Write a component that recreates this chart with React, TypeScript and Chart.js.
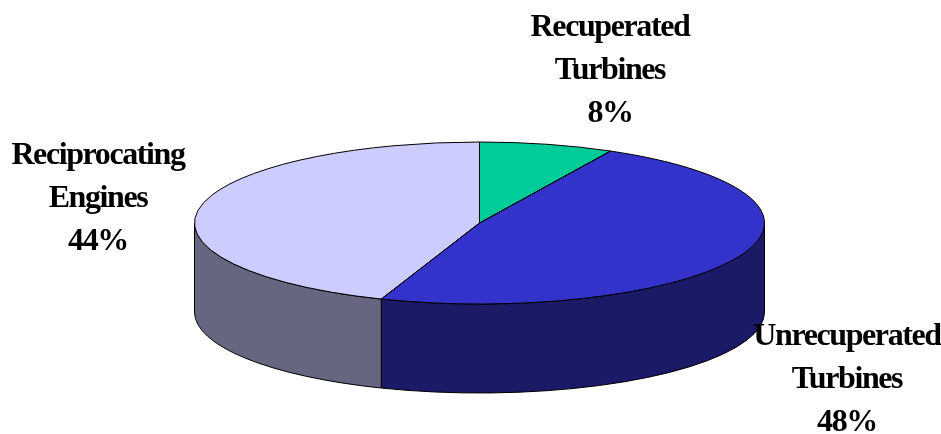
import React, { useEffect, useRef } from "react";
import { Chart, registerables } from "chart.js";

Chart.register(...registerables);

const categories = ["Recuperated Turbines", "Unrecuperated Turbines", "Reciprocating Engines"];
const shares = [7.6, 48, 44.4];
const topColors = ["#00CC99", "#3333CC", "#CCCCFF"];
const wallColors = ["#006650", "#1A1A66", "#666680"];
const labelLines = [
  ["Recuperated", "Turbines", "8%"],
  ["Unrecuperated", "Turbines", "48%"],
  ["Reciprocating", "Engines", "44%"],
];
const labelAnchors = [
  { x: 610, y: 28 },
  { x: 847, y: 337 },
  { x: 98, y: 156 },
];
const tilt = { cx: 479.5, cy: 223, rx: 285, ry: 81, depth: 89, lineGap: 43 };

const pie3d = {
  id: "pie3d",
  beforeDatasetsDraw(chart: any) {
    const { ctx } = chart;
    const arcs = chart.getDatasetMeta(0).data;
    const { cx, cy, rx, ry, depth } = tilt;
    arcs.forEach((arc: any, i: number) => {
      const a = Math.max(arc.startAngle, 0);
      const b = Math.min(arc.endAngle, Math.PI);
      if (b <= a) return;
      ctx.beginPath();
      ctx.ellipse(cx, cy, rx, ry, 0, a, b);
      ctx.ellipse(cx, cy + depth, rx, ry, 0, b, a, true);
      ctx.closePath();
      ctx.fillStyle = wallColors[i];
      ctx.fill();
      ctx.strokeStyle = "#000";
      ctx.lineWidth = 1;
      ctx.stroke();
    });
    const first = arcs[0];
    const r = first.outerRadius;
    ctx.save();
    ctx.translate(cx, cy);
    ctx.scale(rx / r, ry / r);
    ctx.translate(-first.x, -first.y);
  },
  afterDatasetsDraw(chart: any) {
    const { ctx } = chart;
    ctx.restore();
    const arcs = chart.getDatasetMeta(0).data;
    const { cx, cy, rx, ry, lineGap } = tilt;
    arcs.forEach((arc: any) => {
      ctx.beginPath();
      ctx.moveTo(cx, cy);
      ctx.ellipse(cx, cy, rx, ry, 0, arc.startAngle, arc.endAngle);
      ctx.closePath();
      ctx.strokeStyle = "#000";
      ctx.lineWidth = 1;
      ctx.stroke();
    });
    ctx.save();
    ctx.fillStyle = "#000";
    ctx.font = 'bold 32px "Liberation Serif"';
    ctx.textAlign = "center";
    ctx.textBaseline = "middle";
    ctx.letterSpacing = "-1.4px";
    labelLines.forEach((lines, i) => {
      lines.forEach((line, j) => {
        ctx.fillText(line, labelAnchors[i].x, labelAnchors[i].y + j * lineGap);
      });
    });
    ctx.restore();
  },
};

export default function App() {
  const ref = useRef<HTMLCanvasElement | null>(null);
  useEffect(() => {
    const chart = new Chart(ref.current as HTMLCanvasElement, {
      type: "pie",
      data: {
        labels: categories,
        datasets: [{ data: shares, backgroundColor: topColors, borderWidth: 0 }],
      },
      options: {
        responsive: false,
        animation: false,
        plugins: { legend: { display: false }, tooltip: { enabled: false } },
      },
      plugins: [pie3d],
    } as any);
    return () => chart.destroy();
  }, []);
  return (
    <canvas
      ref={ref}
      width={941}
      height={434}
      style={{ position: "fixed", left: 0, top: 0, display: "block" }}
    />
  );
}
